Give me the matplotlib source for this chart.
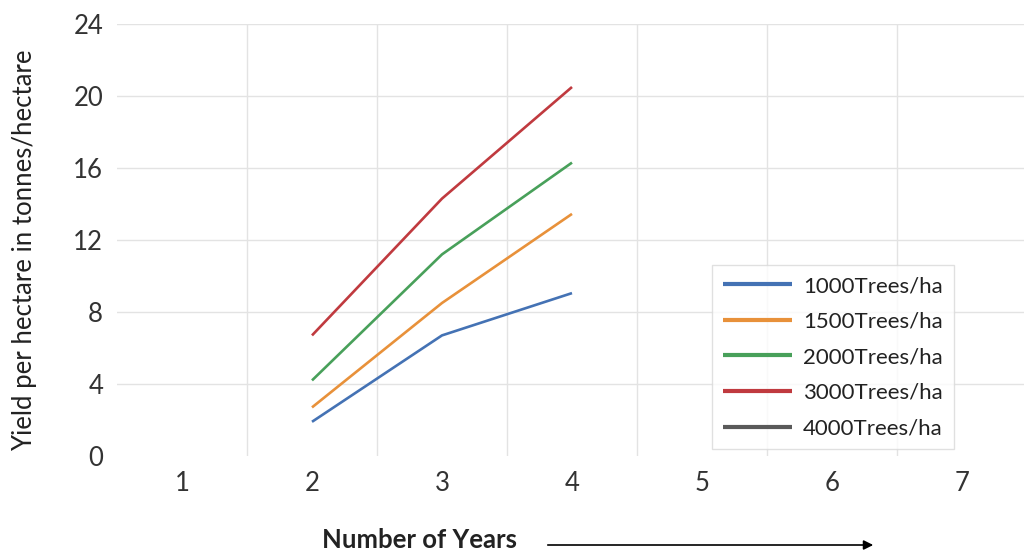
import numpy as np
import matplotlib
matplotlib.use("Agg")
import matplotlib.pyplot as plt

years = [1, 2, 3, 4, 5, 6, 7]
year_labels = ["1", "2", "3", "4", "5", "6", "7"]
nan = np.nan
trees_1000 = [nan, 1.9, 6.7, 9.05, nan, nan, nan]
trees_1500 = [nan, 2.7, 8.5, 13.45, nan, nan, nan]
trees_2000 = [nan, 4.2, 11.2, 16.3, nan, nan, nan]
trees_3000 = [nan, 6.7, 14.3, 20.5, nan, nan, nan]
trees_4000 = [nan, nan, nan, nan, nan, nan, nan]
series_names = ["1000Trees/ha", "1500Trees/ha", "2000Trees/ha", "3000Trees/ha", "4000Trees/ha"]
y_ticks = [0, 4, 8, 12, 16, 20, 24]

colors = ["#4472b4", "#e8913a", "#48a05a", "#c03a3f", "#5a5a5a"]

plt.rcParams['font.family'] = ['Lato', 'DejaVu Sans']
W, H = 1024, 556
fig = plt.figure(figsize=(W / 100, H / 100), dpi=100)
fig.patch.set_facecolor("white")

left, right, top, bottom = 117, 1027, 24, 456
ax = fig.add_axes([left / W, 1 - bottom / H, (right - left) / W, (bottom - top) / H])
ax.set_xlim(0.5, 7.5)
ax.set_ylim(0, 24)

for vals, name, c in zip([trees_1000, trees_1500, trees_2000, trees_3000, trees_4000], series_names, colors):
    ax.plot(years, vals, color=c, lw=1.9, label=name, solid_capstyle='butt')

ax.set_xticks(years)
ax.set_xticklabels(year_labels)
ax.set_yticks(y_ticks)
ax.tick_params(axis='both', length=0, labelsize=18.5, colors="#333333")
ax.tick_params(axis='x', pad=11)
ax.tick_params(axis='y', pad=10)
for s in ax.spines.values():
    s.set_visible(False)

for yv in y_ticks[1:]:
    ax.axhline(yv, color="#e3e3e3", lw=1.0, zorder=0)
for xv in np.arange(1.5, 7.5, 1.0):
    ax.axvline(xv, color="#e3e3e3", lw=1.0, zorder=0)

leg = ax.legend(loc='upper left', bbox_to_anchor=((712 - left) / (right - left), 1 - (265 - top) / (bottom - top)),
                fontsize=16, frameon=True, fancybox=False, edgecolor="#d9d9d9", handlelength=3.1,
                handletextpad=0.5, labelspacing=0.7, borderpad=0.5, borderaxespad=0)
leg.get_frame().set_linewidth(1.0)
for t in leg.get_texts():
    t.set_color("#222222")
for h in leg.get_lines():
    h.set_linewidth(3)

fig.text(25 / W, 1 - 250 / H, "Yield per hectare in tonnes/hectare", rotation=90,
         ha='center', va='center', fontsize=18.5, color="#222222")

fig.text(322 / W, 1 - 540 / H, "Number of Years", ha='left', va='center',
         fontsize=18.5, fontweight='bold', color="#222222")
fig.add_artist(matplotlib.patches.FancyArrowPatch((545 / W, 1 - 545 / H), (876 / W, 1 - 545 / H),
               transform=fig.transFigure, arrowstyle='-|>', mutation_scale=14, color="black", lw=1.2))

fig.savefig("out.png", dpi=100)
